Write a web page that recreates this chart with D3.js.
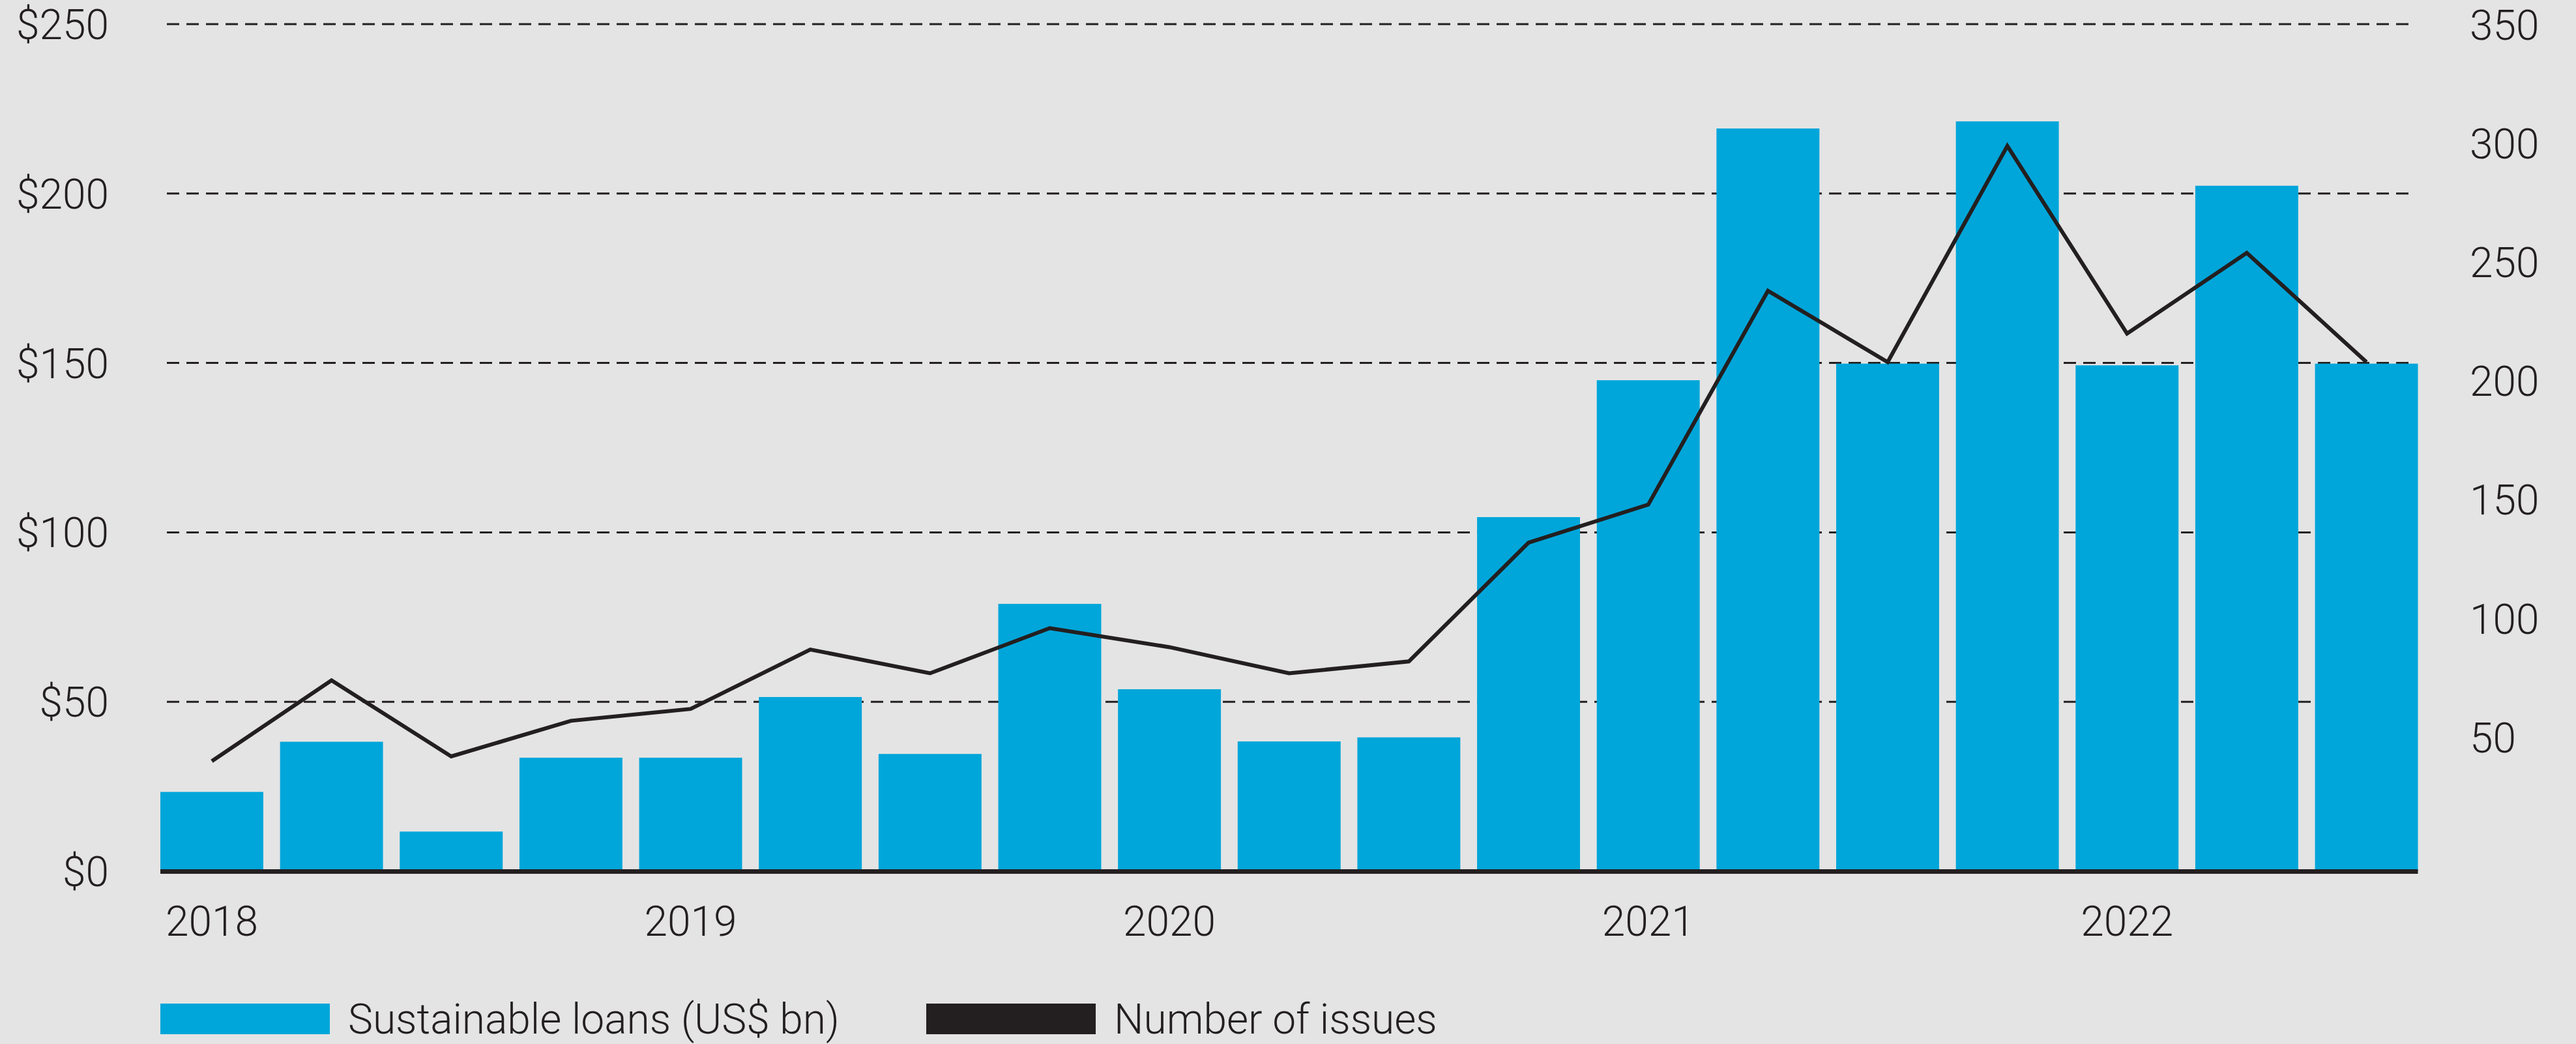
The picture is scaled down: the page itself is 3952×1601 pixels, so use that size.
<!DOCTYPE html>
<html>
<head>
<meta charset="utf-8">
<script src="https://cdn.jsdelivr.net/npm/d3@7"></script>
<style>
  html, body { margin: 0; padding: 0; background: #e4e4e4; }
  svg { display: block; }
  text { font-family: "Roboto", "Liberation Sans", Arial, sans-serif; font-weight: 300; fill: #231f20; }
</style>
</head>
<body>
<svg id="chart" width="3952" height="1601"></svg>
<script>
// ---- data ----
const quarters = ["2018 Q1","2018 Q2","2018 Q3","2018 Q4",
                  "2019 Q1","2019 Q2","2019 Q3","2019 Q4",
                  "2020 Q1","2020 Q2","2020 Q3","2020 Q4",
                  "2021 Q1","2021 Q2","2021 Q3","2021 Q4",
                  "2022 Q1","2022 Q2","2022 Q3"];
const loans = [23.4, 38.2, 11.7, 33.5, 33.5, 51.4, 34.6, 78.9, 53.7, 38.3,
               39.5, 104.5, 144.9, 219.2, 149.8, 221.3, 149.3, 202.3, 149.8];
const issues = [40, 74, 42, 57, 62, 87, 77, 96, 88, 77,
                82, 132, 148, 238, 208, 299, 220, 254, 208];
const leftTicks = [0, 50, 100, 150, 200, 250];
const rightTicks = [50, 100, 150, 200, 250, 300, 350];
const yearTicks = ["2018 Q1","2019 Q1","2020 Q1","2021 Q1","2022 Q1"];
const legendItems = ["Sustainable loans (US$ bn)", "Number of issues"];

// ---- styling ----
const BLUE = "#00a6da";
const INK = "#231f20";

const svg = d3.select("#chart");
svg.append("rect").attr("width", 3952).attr("height", 1601).attr("fill", "#e4e4e4");

const x = d3.scaleBand().domain(quarters).range([246, 3709.5]).paddingInner(0.14).paddingOuter(0);
const yL = d3.scaleLinear().domain([0, 250]).range([1336, 37]);
const yR = d3.scaleLinear().domain([0, 350]).range([1313, 38]);

// gridlines
svg.append("g").selectAll("line")
  .data(leftTicks.filter(d => d > 0))
  .join("line")
  .attr("x1", 256).attr("x2", 3705)
  .attr("y1", d => yL(d)).attr("y2", d => yL(d))
  .attr("stroke", INK).attr("stroke-width", 3)
  .attr("stroke-dasharray", "19,11");

// bars
svg.append("g").selectAll("rect")
  .data(quarters)
  .join("rect")
  .attr("x", d => x(d))
  .attr("width", x.bandwidth())
  .attr("y", (d, i) => yL(loans[i]))
  .attr("height", (d, i) => yL(0) - yL(loans[i]))
  .attr("fill", BLUE);

// baseline
svg.append("line")
  .attr("x1", x.range()[0]).attr("x2", x.range()[1])
  .attr("y1", yL(0) + 0.5).attr("y2", yL(0) + 0.5)
  .attr("stroke", INK).attr("stroke-width", 7);

// line
const line = d3.line()
  .x((d, i) => x(quarters[i]) + x.bandwidth() / 2)
  .y(d => yR(d));
svg.append("path")
  .datum(issues)
  .attr("d", line)
  .attr("fill", "none")
  .attr("stroke", INK)
  .attr("stroke-width", 6)
  .attr("stroke-linejoin", "miter");

// left axis
const gL = svg.append("g").attr("transform", "translate(167,0)")
  .call(d3.axisLeft(yL).tickValues(leftTicks).tickSize(0).tickPadding(0).tickFormat(d => "$" + d));
gL.select(".domain").remove();
gL.selectAll("text").attr("font-size", 64).attr("dy", "0.35em").attr("font-family", null);

// right axis
const gR = svg.append("g").attr("transform", "translate(3789,0)")
  .call(d3.axisRight(yR).tickValues(rightTicks).tickSize(0).tickPadding(0));
gR.select(".domain").remove();
gR.selectAll("text").attr("font-size", 64).attr("dy", "0.35em").attr("font-family", null);

// x axis (years)
const gX = svg.append("g").attr("transform", "translate(0,1435)")
  .call(d3.axisBottom(x).tickValues(yearTicks).tickSize(0).tickPadding(0).tickFormat(d => d.slice(0, 4)));
gX.select(".domain").remove();
gX.selectAll("text").attr("font-size", 64).attr("dy", 0).attr("y", 0).attr("font-family", null);

// legend
const legend = svg.append("g");
const legendX = [246, 1421];
const legendColors = [BLUE, INK];
legendItems.forEach((label, i) => {
  legend.append("rect").attr("x", legendX[i]).attr("y", 1539).attr("width", 260).attr("height", 47).attr("fill", legendColors[i]);
  legend.append("text").attr("x", legendX[i] + 288).attr("y", 1585).attr("font-size", 64).text(label);
});
</script>
</body>
</html>
